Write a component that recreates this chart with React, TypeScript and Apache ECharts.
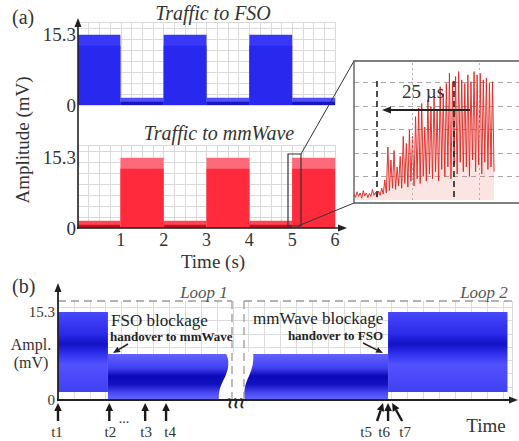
import React, { useEffect, useRef } from 'react';
import * as echarts from 'echarts';

const SERIF = 'Liberation Serif';

// ---------- panel (a): traffic switching ----------
const segEdges = [0, 0.99, 2.0, 3.0, 4.0, 5.0, 6.0]; // seconds
const fsoOn = [1, 0, 1, 0, 1, 0];
const mmwOn = [0, 1, 0, 1, 0, 1];
const peakMv = 15.3;
const denseMv = 12.9;
const idleMv = 1.6;
const idleCoreMv = 0.7;
const ampTicks = [0, 15.3];
const secTicks = [1, 2, 3, 4, 5, 6];

// ---------- inset: mmWave turn-on (µs) ----------
const insetStepUs = 0.5;
const insetAmp = [
  0.25, 0.12, 0.35, 0.15, 0.3, 0.08, 0.4, 0.18, 0.3, 0.1,
  0.28, 0.15, 0.45, 0.2, 0.32, 0.12, 0.38, 0.2, 0.5, 0.25,
  0.85, 0.3, 2.25, 0.4, 1.7, 0.5, 2.1, 0.45, 1.4, 0.6,
  1.85, 0.5, 2.7, 0.7, 2.4, 0.55, 2.97, 0.8, 2.7, 0.6,
  3.54, 0.9, 3.9, 0.7, 4.1, 1.0, 3.1, 0.8, 4.25, 1.1,
  3.96, 0.9, 4.4, 1.2, 3.82, 0.8, 4.81, 1.3, 4.52, 1.0,
  4.95, 1.4, 5.38, 0.9, 5.02, 1.5, 5.24, 1.1, 5.45, 1.6,
  5.1, 1.2, 4.95, 1.4, 5.31, 1.0, 5.02, 1.7, 5.45, 1.2,
  5.31, 1.5, 5.38, 1.1, 5.1, 1.6, 5.17, 1.3, 4.95, 1.4,
  5.02, 1.2,
];
const insetGridUs = [19, 40.7];
const insetMarkUs = [7.4, 32.4];
const spanLabel = '25 µs';

// ---------- panel (b): handover loops ----------
const bStart = [0, 11, 40, 72.7];
const bEnd = [11, 40, 72.7, 99];
const bTop = [15.3, 8.0, 8.0, 15.3];
const bBottom = [1.4, 0, 0, 1.4];
const bHigh = [1, 0, 0, 1];
const bMarkerNames = ['t1', 't2', 't3', 't4', 't5', 't6', 't7'];
const bMarkerT = [0, 11.3, 19.2, 23.8, 71.6, 72.7, 73.6];
// styling offsets (px) for slanted arrows / labels
const bMarkerTail = [0, 0, 0, 0, -6, 0, 10];
const bMarkerLabelDx = [-1, 1, 1, 4, -17, -4, 13];

function arrow(x1: number, y1: number, x2: number, y2: number, w = 1.6, hl = 8, hw = 3.5, color = '#222') {
  const dx = x2 - x1, dy = y2 - y1, L = Math.hypot(dx, dy);
  const ux = dx / L, uy = dy / L;
  const bx = x2 - ux * hl, by = y2 - uy * hl;
  const nx = -uy, ny = ux;
  return [
    { type: 'line', z: 100, shape: { x1, y1, x2: bx, y2: by }, style: { stroke: color, lineWidth: w } },
    { type: 'polygon', z: 100, shape: { points: [[x2, y2], [bx + nx * hw, by + ny * hw], [bx - nx * hw, by - ny * hw]] }, style: { fill: color } },
  ];
}

function txt(text: string, x: number, y: number, size: number, opts: any = {}) {
  return {
    type: 'text', z: 100, x, y, rotation: opts.rotation || 0,
    style: {
      text, fill: opts.fill || '#333', fontSize: size, fontFamily: SERIF,
      fontStyle: opts.italic ? 'italic' : 'normal', fontWeight: opts.bold ? 'bold' : 'normal',
      textAlign: opts.align || 'center', textVerticalAlign: 'middle',
    },
  };
}

const paletteFso = { hiOuter: '#3838f8', hiCore: '#2828ee', loOuter: '#5050ff', loCore: '#1616c4' };
const paletteMmw = { hiOuter: '#ff6a7a', hiCore: '#ff2a3c', loOuter: '#ff4656', loCore: '#c8101c' };

function aRender(pal: any) {
  return (params: any, api: any) => {
    const t0 = api.value(0), t1 = api.value(1), on = api.value(2);
    const top = on ? peakMv : idleMv;
    const core = on ? denseMv : idleCoreMv;
    const pTop = api.coord([t0, top]);
    const pCore = api.coord([t0, core]);
    const pEnd = api.coord([t1, 0]);
    return {
      type: 'group',
      children: [
        { type: 'rect', shape: { x: pTop[0], y: pTop[1], width: pEnd[0] - pTop[0], height: pEnd[1] - pTop[1] }, style: { fill: on ? pal.hiOuter : pal.loOuter } },
        { type: 'rect', shape: { x: pCore[0], y: pCore[1], width: pEnd[0] - pCore[0], height: pEnd[1] - pCore[1] }, style: { fill: on ? pal.hiCore : pal.loCore } },
      ],
    };
  };
}

const hiGrad = () => new echarts.graphic.LinearGradient(0, 0, 0, 1, [
  { offset: 0, color: '#4848fc' }, { offset: 0.28, color: '#2a2ae8' }, { offset: 0.4, color: '#1212c8' },
  { offset: 0.52, color: '#3030ec' }, { offset: 0.66, color: '#5252ff' }, { offset: 1, color: '#4040f4' },
]);
const loGrad = () => new echarts.graphic.LinearGradient(0, 0, 0, 1, [
  { offset: 0, color: '#6262ff' }, { offset: 0.3, color: '#4242f2' }, { offset: 0.48, color: '#0a0ab8' },
  { offset: 0.66, color: '#1212c2' }, { offset: 0.85, color: '#4a4af4' }, { offset: 1, color: '#6666ff' },
]);

export default function App() {
  const ref = useRef<HTMLDivElement>(null);
  useEffect(() => {
    document.body.style.margin = '0';
    if (!ref.current) return;
    echarts.graphic.registerShape('breakMask', echarts.graphic.extendPath(
      'M225,352 C230,360 229,368 225,377 C220,386 218,393 219,400 L245,400 C243,393 245,384 249,376 C253,367 254,360 253,352 Z', {}));
    const chart = echarts.init(ref.current, null, { renderer: 'svg' });

    const gridLine = { show: true, lineStyle: { color: '#dadada', width: 1 } };
    const hidden = { axisLine: { show: false }, axisTick: { show: false }, axisLabel: { show: false } };
    const ampLabel = (size: number, margin: number) => ({
      show: true, fontSize: size, fontFamily: SERIF, color: '#333', margin,
      formatter: (v: number) => (ampTicks.includes(v) ? String(v) : ''),
    });
    const labelAxis = (gridIndex: number, max: number, size: number, margin: number) => ({
      type: 'value', gridIndex, position: 'left', min: 0, max, interval: 15.3,
      axisLine: { show: false }, axisTick: { show: false }, splitLine: { show: false }, axisLabel: ampLabel(size, margin),
    });

    const insetData = insetAmp.map((v, i) => [i * insetStepUs, v]);

    const option: any = {
      animation: false,
      textStyle: { fontFamily: SERIF },
      grid: [
        { left: 78, top: 22, width: 257, height: 83 },
        { left: 78, top: 145, width: 257, height: 83 },
        { left: 354, top: 61, width: 195, height: 139 },
        { left: 58, top: 301, width: 454, height: 99 },
      ],
      xAxis: [
        { type: 'value', gridIndex: 0, min: 0, max: 6, interval: 0.25, ...hidden, splitLine: gridLine },
        {
          type: 'value', gridIndex: 1, min: 0, max: 6, interval: 0.25, axisLine: { show: false }, axisTick: { show: false },
          splitLine: gridLine,
          axisLabel: { show: true, fontSize: 18, fontFamily: SERIF, color: '#333', margin: 3, formatter: (v: number) => (secTicks.includes(v) ? String(v) : '') },
        },
        { type: 'value', gridIndex: 2, min: 0, max: 53.6, show: false },
        { type: 'value', gridIndex: 3, min: 0, max: 100, interval: 3.5, ...hidden, splitLine: { show: true, lineStyle: { color: '#dcdcdc' } } },
      ],
      yAxis: [
        { type: 'value', gridIndex: 0, position: 'left', min: 0, max: 18.1, interval: 2.4, ...hidden, splitLine: gridLine },
        labelAxis(0, 18.1, 19, 2),
        { type: 'value', gridIndex: 1, position: 'left', min: 0, max: 18.1, interval: 2.4, ...hidden, splitLine: gridLine },
        labelAxis(1, 18.1, 19, 2),
        {
          type: 'value', gridIndex: 2, min: 0, max: 5.9, interval: 1, ...hidden,
          splitLine: { show: true, showMinLine: false, showMaxLine: false, lineStyle: { color: '#a8a8a8', type: [5, 4], width: 1 } },
        },
        { type: 'value', gridIndex: 3, position: 'left', min: 0, max: 17.2, interval: 2.3, ...hidden, splitLine: { show: true, showMaxLine: false, lineStyle: { color: '#dcdcdc' } } },
        labelAxis(3, 17.2, 15, 3),
      ],
      series: [
        {
          type: 'custom', name: 'Traffic to FSO', xAxisIndex: 0, yAxisIndex: 0,
          data: fsoOn.map((s, i) => [segEdges[i], segEdges[i + 1], s]),
          renderItem: aRender(paletteFso),
        },
        {
          type: 'custom', name: 'Traffic to mmWave', xAxisIndex: 1, yAxisIndex: 2,
          data: mmwOn.map((s, i) => [segEdges[i], segEdges[i + 1], s]),
          renderItem: aRender(paletteMmw),
        },
        {
          type: 'line', name: 'mmWave turn-on', xAxisIndex: 2, yAxisIndex: 4, data: insetData,
          symbol: 'none', lineStyle: { color: '#e0241e', width: 0.9 },
          areaStyle: { color: 'rgba(236,80,70,0.22)' },
          markLine: {
            silent: true, symbol: 'none', label: { show: false },
            data: [
              ...insetGridUs.map((u) => ({ xAxis: u, lineStyle: { color: '#b0b0b0', type: [2, 3], width: 1 } })),
              ...insetMarkUs.map((u) => [
                { coord: [u, 0.13], lineStyle: { color: '#222', type: [6, 4], width: 1.6 } },
                { coord: [u, 5.1] },
              ]),
            ],
          },
        },
        {
          type: 'custom', name: 'Handover', xAxisIndex: 3, yAxisIndex: 5,
          data: bStart.map((s, i) => [s, bEnd[i], bTop[i], bBottom[i], bHigh[i]]),
          renderItem: (params: any, api: any) => {
            const p0 = api.coord([api.value(0), api.value(2)]);
            const p1 = api.coord([api.value(1), api.value(3)]);
            return {
              type: 'rect', shape: { x: p0[0], y: p0[1], width: p1[0] - p0[0], height: p1[1] - p0[1] },
              style: { fill: api.value(4) ? hiGrad() : loGrad() },
            };
          },
        },
        {
          type: 'custom', name: 'Events', xAxisIndex: 3, yAxisIndex: 5, clip: false, z: 10,
          data: bMarkerT.map((t) => [t, 0]),
          renderItem: (params: any, api: any) => {
            const i = params.dataIndex;
            const p = api.coord([api.value(0), 0]);
            const x = p[0], y0 = p[1];
            const tx = x, ty = y0 + 3;
            const sx = x + bMarkerTail[i], sy = y0 + 21;
            const dx = tx - sx, dy = ty - sy, L = Math.hypot(dx, dy);
            const ux = dx / L, uy = dy / L;
            const bx = tx - ux * 8, by = ty - uy * 8;
            const nx = -uy, ny = ux;
            return {
              type: 'group',
              children: [
                { type: 'line', shape: { x1: sx, y1: sy, x2: bx, y2: by }, style: { stroke: '#1a1a1a', lineWidth: 2.4 } },
                { type: 'polygon', shape: { points: [[tx, ty], [bx + nx * 3.8, by + ny * 3.8], [bx - nx * 3.8, by - ny * 3.8]] }, style: { fill: '#1a1a1a' } },
                {
                  type: 'text', x: x + bMarkerLabelDx[i], y: y0 + 24,
                  style: { text: bMarkerNames[i], fontSize: 15, fontFamily: SERIF, fill: '#333', textAlign: 'center', textVerticalAlign: 'top' },
                },
              ],
            };
          },
        },
      ],
      graphic: [
        // panel (a)
        txt('(a)', 12, 17, 20, { align: 'left' }),
        txt('Traffic to FSO', 213, 13, 20, { italic: true }),
        txt('Traffic to mmWave', 219, 133, 20, { italic: true }),
        txt('Amplitude (mV)', 22, 140, 19, { rotation: Math.PI / 2 }),
        txt('Time (s)', 213, 261, 19),
        ...arrow(78, 229, 78, 18, 1.6, 9, 3.5),
        ...arrow(77, 228, 347, 228, 1.6, 9, 3.5),
        // zoom box and connectors
        { type: 'rect', z: 100, shape: { x: 288, y: 154, width: 13, height: 72 }, style: { fill: 'none', stroke: '#333', lineWidth: 1.2 } },
        { type: 'line', z: 100, shape: { x1: 301, y1: 154, x2: 354, y2: 61 }, style: { stroke: '#333', lineWidth: 1 } },
        { type: 'line', z: 100, shape: { x1: 298, y1: 226, x2: 354, y2: 203 }, style: { stroke: '#333', lineWidth: 1 } },
        { type: 'rect', z: 100, shape: { x: 354, y: 61, width: 200, height: 142 }, style: { fill: 'none', stroke: '#555', lineWidth: 1.3 } },
        txt(spanLabel, 423, 91, 19),
        ...arrow(470, 110, 382, 110, 1.8, 9, 3.5),
        // panel (b)
        txt('(b)', 12, 286, 20, { align: 'left' }),
        txt('Ampl.', 31, 344, 16),
        txt('(mV)', 31, 362, 16),
        { type: 'breakMask', z: 100, x: 0, y: 0, style: { fill: '#ffffff' } },
        { type: 'line', z: 100, shape: { x1: 58, y1: 301, x2: 232, y2: 301 }, style: { stroke: '#9a9a9a', lineWidth: 1.3, lineDash: [8, 5] } },
        { type: 'line', z: 100, shape: { x1: 232, y1: 301, x2: 232, y2: 400 }, style: { stroke: '#9a9a9a', lineWidth: 1.3, lineDash: [8, 5] } },
        { type: 'line', z: 100, shape: { x1: 244, y1: 301, x2: 244, y2: 400 }, style: { stroke: '#9a9a9a', lineWidth: 1.3, lineDash: [8, 5] } },
        { type: 'line', z: 100, shape: { x1: 244, y1: 301, x2: 512, y2: 301 }, style: { stroke: '#9a9a9a', lineWidth: 1.3, lineDash: [8, 5] } },
        txt('Loop 1', 204, 292, 17, { italic: true, fill: '#555' }),
        txt('Loop 2', 484, 292, 17, { italic: true, fill: '#555' }),
        ...arrow(58, 401, 58, 283, 1.8, 9, 3.5),
        ...arrow(57, 400, 518, 400, 1.8, 9, 3.5),
        txt('\u2240\u2240\u2240', 236, 403, 15, { fill: '#222', bold: true }),
        txt('FSO blockage', 111, 320, 17, { align: 'left', fill: '#222' }),
        txt('handover to mmWave', 110, 336, 13, { align: 'left', bold: true, fill: '#222' }),
        ...arrow(128, 344, 113, 353, 1.5, 7, 3),
        txt('mmWave blockage', 253, 318, 17, { align: 'left', fill: '#222' }),
        txt('handover to FSO', 383, 335, 13, { align: 'right', bold: true, fill: '#222' }),
        ...arrow(363, 343, 383, 353, 1.5, 7, 3),
        txt('...', 124, 418, 14, { fill: '#333' }),
        txt('Time', 486, 425, 19),
      ],
    };
    chart.setOption(option);
    return () => chart.dispose();
  }, []);
  return <div ref={ref} style={{ width: 519, height: 441 }} />;
}
